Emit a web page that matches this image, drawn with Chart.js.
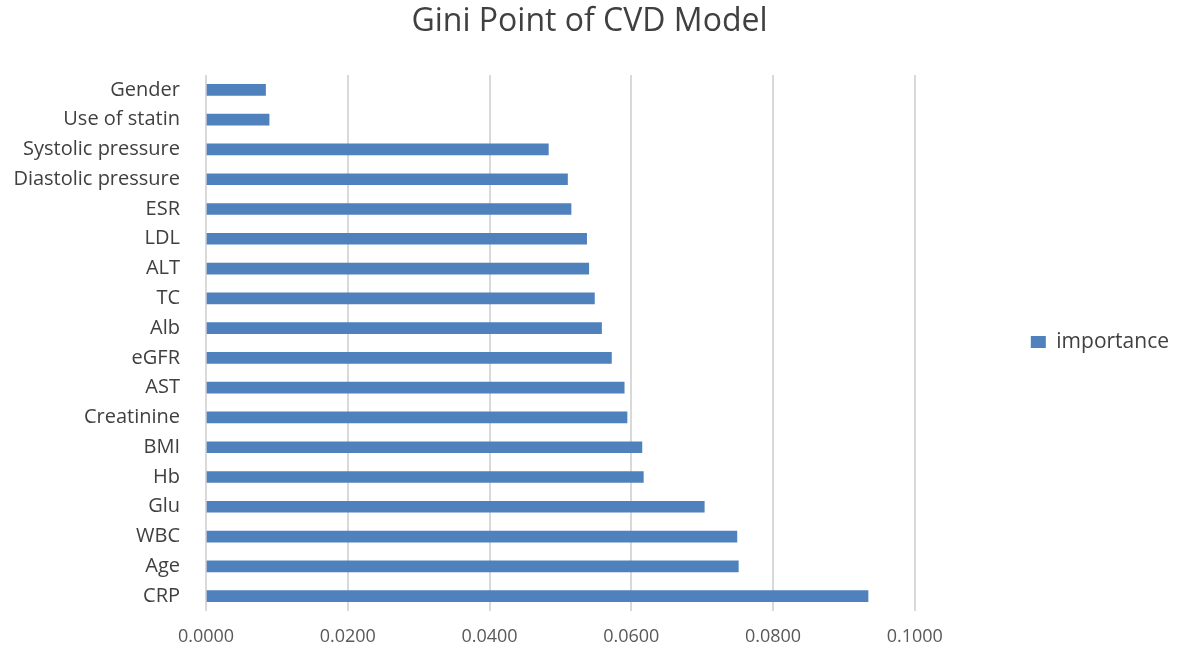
<!DOCTYPE html>
<html>
<head>
<meta charset="utf-8">
<script src="https://cdn.jsdelivr.net/npm/chart.js@4"></script>
<style>
html,body{margin:0;padding:0;background:#fff;}
#wrap{width:1181px;height:651px;}
</style>
</head>
<body>
<div id="wrap"><canvas id="c" width="1181" height="651"></canvas></div>
<script>
const categories = ["Gender","Use of statin","Systolic pressure","Diastolic pressure","ESR","LDL","ALT","TC","Alb","eGFR","AST","Creatinine","BMI","Hb","Glu","WBC","Age","CRP"];
const importance = [0.0084,0.0089,0.0483,0.0510,0.0515,0.0537,0.0540,0.0548,0.0558,0.0572,0.0590,0.0594,0.0615,0.0617,0.0703,0.0749,0.0751,0.0934];
const seriesName = "importance";
const xTicks = [0,0.02,0.04,0.06,0.08,0.1];
const FONT = "'Open Sans', sans-serif";

new Chart(document.getElementById('c'), {
  type: 'bar',
  data: {
    labels: categories,
    datasets: [{
      label: seriesName,
      data: importance,
      backgroundColor: '#4f81bd',
      borderWidth: 0,
      barThickness: 11
    }]
  },
  options: {
    indexAxis: 'y',
    responsive: false,
    animation: false,
    devicePixelRatio: 1,
    layout: { padding: { left: 0, right: 2, top: 0, bottom: 5 } },
    plugins: {
      title: {
        display: true,
        text: 'Gini Point of CVD Model',
        color: '#404040',
        font: { family: FONT, size: 32, weight: 'normal' },
        padding: { top: 3, bottom: 33.6 }
      },
      legend: {
        position: 'right',
        title: {
          display: true,
          text: ' ',
          font: { family: FONT, size: 20 },
          padding: 7
        },
        labels: {
          color: '#404040',
          font: { family: FONT, size: 21 },
          boxWidth: 15,
          boxHeight: 12,
          padding: 10
        }
      },
      tooltip: { enabled: false }
    },
    scales: {
      x: {
        min: 0,
        max: 0.1,
        afterBuildTicks: (axis) => { axis.ticks = xTicks.map(v => ({ value: v })); },
        afterFit: (axis) => { axis.height = 35; },
        ticks: {
          color: '#595959',
          font: { family: FONT, size: 18 },
          padding: 15,
          callback: (v) => Number(v).toFixed(4)
        },
        grid: { color: '#d9d9d9', lineWidth: 2, drawTicks: false },
        border: { display: false }
      },
      y: {
        afterFit: (axis) => { axis.width = 206; },
        ticks: {
          color: '#404040',
          font: { family: FONT, size: 20 },
          padding: 18,
          autoSkip: false
        },
        grid: { display: false },
        border: { display: false }
      },
      gap: {
        type: 'category',
        position: 'right',
        display: true,
        afterFit: (axis) => { axis.width = 106; },
        ticks: { display: false },
        grid: { display: false },
        border: { display: false }
      }
    }
  }
});
</script>
</body>
</html>
